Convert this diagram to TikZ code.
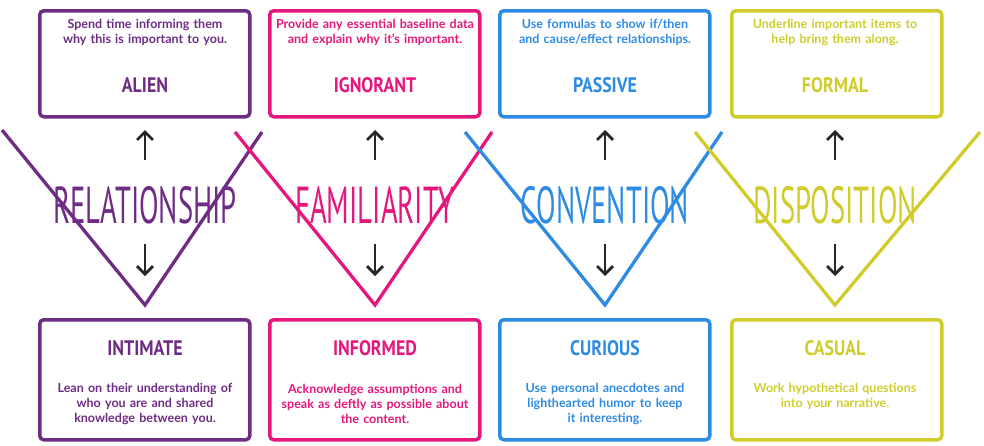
\documentclass[tikz,border=0pt]{standalone}
\usepackage{fontspec}
\setmainfont{Lato}
\newfontfamily\titlefont{PT Sans}
\usetikzlibrary{arrows.meta}
\definecolor{cpur}{HTML}{6E2C84}
\definecolor{cpink}{HTML}{E5177C}
\definecolor{cblue}{HTML}{2E8BE3}
\definecolor{cyel}{HTML}{CFCC2C}
\tikzset{
 boxs/.style={draw=#1,line width=3.5pt,rounded corners=4pt,minimum width=210pt,anchor=north west},
 desc/.style={text width=210pt,align=center,font=\bfseries\fontsize{12.5}{15}\selectfont,text=#1},
 btitle/.style={font=\titlefont\bfseries\fontsize{21}{21}\selectfont,text=#1,xscale=0.85},
 bigt/.style={font=\titlefont\fontsize{52}{52}\selectfont,text=#1,xscale=0.55},
 vline/.style={draw=#1,line width=3.3pt,line join=miter},
 arr/.style={draw=black!85,line width=2.8pt,-{Straight Barb[length=8pt,width=16pt,line width=2.8pt]}}
}
\begin{document}
\begin{tikzpicture}[x=1pt,y=-1pt]
\useasboundingbox (0,0) rectangle (984,445);
% V shapes
\coordinate (pa) at (2,130); \coordinate (pb) at (145,305); \coordinate (pc) at (262,132);
\coordinate (ka) at (235,132); \coordinate (kb) at (375,305); \coordinate (kc) at (492,132);
\coordinate (ba) at (465,132); \coordinate (bb) at (605,305); \coordinate (bc) at (722,132);
\coordinate (ya) at (695,132); \coordinate (yb) at (835,305); \coordinate (yc) at (980,132);
\draw[vline=cpur] (pa)--(pb)--(pc);
\draw[vline=cpink] (ka)--(kb)--(kc);
\draw[vline=cblue] (ba)--(bb)--(bc);
\draw[vline=cyel] (ya)--(yb)--(yc);
% top boxes
\foreach \x/\c/\n in {38/cpur/t1,268/cpink/t2,498/cblue/t3,730/cyel/t4}{
  \node[boxs=\c,minimum height=106pt] (\n) at (\x,9) {};
}
\foreach \x/\c/\n in {38/cpur/b1,268/cpink/b2,498/cblue/b3,730/cyel/b4}{
  \node[boxs=\c,minimum height=120pt] (\n) at (\x,318) {};
}
% top texts
\node[desc=cpur] (d1) at (145,32) {Spend time informing them\\why this is important to you.};
\node[desc=cpink] (d2) at (375,32) {Provide any essential baseline data\\and explain why it's important.};
\node[desc=cblue] (d3) at (605,32) {Use formulas to show if/then\\and cause/effect relationships.};
\node[desc=cyel] (d4) at (835,32) {Underline important items to\\help bring them along.};
\node[btitle=cpur] (n1) at (145,85) {ALIEN};
\node[btitle=cpink] (n2) at (375,85) {IGNORANT};
\node[btitle=cblue] (n3) at (605,85) {PASSIVE};
\node[btitle=cyel] (n4) at (835,85) {FORMAL};
% bottom texts
\node[btitle=cpur] (m1) at (145,348) {INTIMATE};
\node[btitle=cpink] (m2) at (375,348) {INFORMED};
\node[btitle=cblue] (m3) at (605,348) {CURIOUS};
\node[btitle=cyel] (m4) at (835,348) {CASUAL};
\node[desc=cpur] (e1) at (145,404) {Lean on their understanding of\\who you are and shared\\knowledge between you.};
\node[desc=cpink] (e2) at (375,404) {Acknowledge assumptions and\\speak as deftly as possible about\\the content.};
\node[desc=cblue] (e3) at (605,404) {Use personal anecdotes and\\lighthearted humor to keep\\it interesting.};
\node[desc=cyel] (e4) at (835,396) {Work hypothetical questions\\into your narrative.};
% big titles
\node[bigt=cpur] (g1) at (145,205) {RELATIONSHIP};
\node[bigt=cpink] (g2) at (375,205) {FAMILIARITY};
\node[bigt=cblue] (g3) at (605,205) {CONVENTION};
\node[bigt=cyel] (g4) at (835,205) {DISPOSITION};
% arrows
\foreach \i/\x in {1/145,2/375,3/605,4/835}{
  \coordinate (u\i) at (\x,130); \coordinate (v\i) at (\x,160);
  \coordinate (w\i) at (\x,244); \coordinate (z\i) at (\x,276);
  \draw[arr] (v\i)--(u\i);
  \draw[arr] (w\i)--(z\i);
}
\end{tikzpicture}
\end{document}
